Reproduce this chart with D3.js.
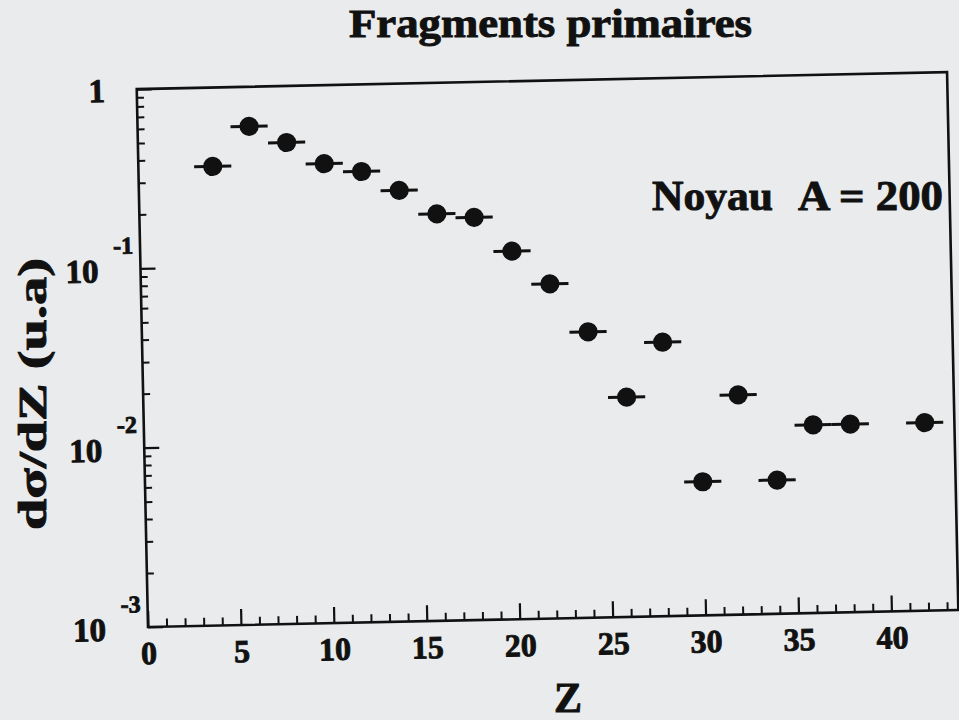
<!DOCTYPE html>
<html><head><meta charset="utf-8">
<script src="https://cdn.jsdelivr.net/npm/d3@7"></script>
<style>
html,body{margin:0;padding:0;background:#e9ebec;}
svg{display:block;}
text{font-family:"Liberation Serif","Times New Roman",serif;font-weight:bold;fill:#111;stroke:#111;stroke-width:0.9px;}
</style>
</head><body>
<svg id="chart" width="959" height="720"></svg>
<script>
// ---- data ----
const zValues = [4, 6, 8, 10, 12, 14, 16, 18, 20, 22, 24, 26, 28, 30, 32, 34, 36, 38, 42];
const dsdzValues = [0.363, 0.601, 0.484, 0.365, 0.327, 0.254, 0.186, 0.176, 0.113, 0.0735,
                    0.0393, 0.0168, 0.0337, 0.00556, 0.0168, 0.00557, 0.0112, 0.0112, 0.0112];
const zHalfBin = [1, 1, 1, 1, 1, 1, 1, 1, 1, 1, 1, 1, 1, 1, 1, 1, 1, 1, 1];
const xTickValues = [0, 5, 10, 15, 20, 25, 30, 35, 40];
const xMinorValues = d3.range(0, 44, 1);
const yDecadeExps = [0, -1, -2, -3];
const titleText = "Fragments primaires";
const xLabel = "Z";
const yLabel = "dσ/dZ (u.a)";

const svg = d3.select("#chart");
const W = 959, H = 720;
svg.append("rect").attr("width", W).attr("height", H).attr("fill", "#e9ebec");

const ox = 148, oy = 627;           // bottom-left corner of the frame
const g = svg.append("g").attr("transform", `rotate(-1.2,${ox},${oy})`);

const x = d3.scaleLinear().domain([0, 43.6]).range([ox, ox + 810.5]);
const y = d3.scaleLog().domain([1e-3, 1]).range([oy, oy - 538]);

const ink = "#111";

// frame
g.append("rect")
  .attr("x", x(0)).attr("y", y(1))
  .attr("width", x(43.6) - x(0)).attr("height", y(1e-3) - y(1))
  .attr("fill", "none").attr("stroke", ink).attr("stroke-width", 2.6);

// x minor ticks
const xMinor = d3.axisBottom(x).tickValues(xMinorValues.filter(v => v % 5 !== 0))
  .tickSize(-8).tickFormat("");
g.append("g").attr("transform", `translate(0,${oy})`).call(xMinor)
  .call(s => s.select(".domain").remove())
  .call(s => s.selectAll("line").attr("stroke", ink).attr("stroke-width", 2));

// x major ticks + labels
const xMajor = d3.axisBottom(x).tickValues(xTickValues).tickSize(-16).tickFormat(d3.format("d"));
g.append("g").attr("transform", `translate(0,${oy})`).call(xMajor)
  .call(s => s.select(".domain").remove())
  .call(s => s.selectAll("line").attr("stroke", ink).attr("stroke-width", 2.2))
  .call(s => s.selectAll("text")
      .attr("y", 37).attr("dy", 0)
      .style("font-size", "32px")
      .style("font-family", '"Liberation Serif",serif').style("font-weight", "bold")
      .attr("fill", ink).attr("stroke", ink).attr("stroke-width", 0.9));

// y minor ticks
const yMinorValues = [];
[-3, -2, -1].forEach(e => { for (let m = 2; m <= 9; m++) yMinorValues.push(m * Math.pow(10, e)); });
const yMinor = d3.axisLeft(y).tickValues(yMinorValues).tickSize(-7).tickFormat("");
g.append("g").attr("transform", `translate(${ox},0)`).call(yMinor)
  .call(s => s.select(".domain").remove())
  .call(s => s.selectAll("line").attr("stroke", ink).attr("stroke-width", 2));

const yMajor = d3.axisLeft(y).tickValues(yDecadeExps.map(e => Math.pow(10, e))).tickSize(-15).tickFormat("");
g.append("g").attr("transform", `translate(${ox},0)`).call(yMajor)
  .call(s => s.select(".domain").remove())
  .call(s => s.selectAll("line").attr("stroke", ink).attr("stroke-width", 2.2));

// y decade labels  (10 with exponent)
yDecadeExps.forEach(e => {
  const ty = y(Math.pow(10, e));
  if (e === 0) {
    g.append("text").attr("x", ox - 40).attr("y", ty + 12)
      .attr("text-anchor", "middle").style("font-size", "33px").text("1");
  } else {
    g.append("text").attr("x", ox - 42).attr("y", ty + 13)
      .attr("text-anchor", "end").style("font-size", "33px").text("10");
    g.append("text").attr("x", ox - 7).attr("y", ty - 15)
      .attr("text-anchor", "end").style("font-size", "24px").text(String(e));
  }
});

// data: horizontal bin bars and filled circles
const data = zValues.map((z, i) => ({ z, v: dsdzValues[i], h: zHalfBin[i] }));
g.append("g").selectAll("line").data(data).join("line")
  .attr("x1", d => x(d.z - d.h)).attr("x2", d => x(d.z + d.h))
  .attr("y1", d => y(d.v)).attr("y2", d => y(d.v))
  .attr("stroke", ink).attr("stroke-width", 3);
g.append("g").selectAll("circle").data(data).join("circle")
  .attr("cx", d => x(d.z)).attr("cy", d => y(d.v)).attr("r", 9.6)
  .attr("fill", ink);

// texts (not rotated)
svg.append("text").attr("x", 349).attr("y", 37)
  .attr("textLength", 403).attr("lengthAdjust", "spacingAndGlyphs")
  .style("font-size", "39px").text(titleText);

svg.append("text").attr("x", 652).attr("y", 210)
  .attr("textLength", 121).attr("lengthAdjust", "spacingAndGlyphs")
  .style("font-size", "42px").text("Noyau");
svg.append("text").attr("x", 798).attr("y", 210)
  .attr("textLength", 145).attr("lengthAdjust", "spacingAndGlyphs")
  .style("font-size", "42px").text("A = 200");

svg.append("text").attr("x", 568).attr("y", 712).attr("text-anchor", "middle")
  .style("font-size", "42px").text(xLabel);

svg.append("text").attr("transform", "translate(46,394) rotate(-90)")
  .attr("text-anchor", "middle")
  .attr("textLength", 272).attr("lengthAdjust", "spacingAndGlyphs")
  .style("font-size", "40px").text(yLabel);
</script>
</body></html>
